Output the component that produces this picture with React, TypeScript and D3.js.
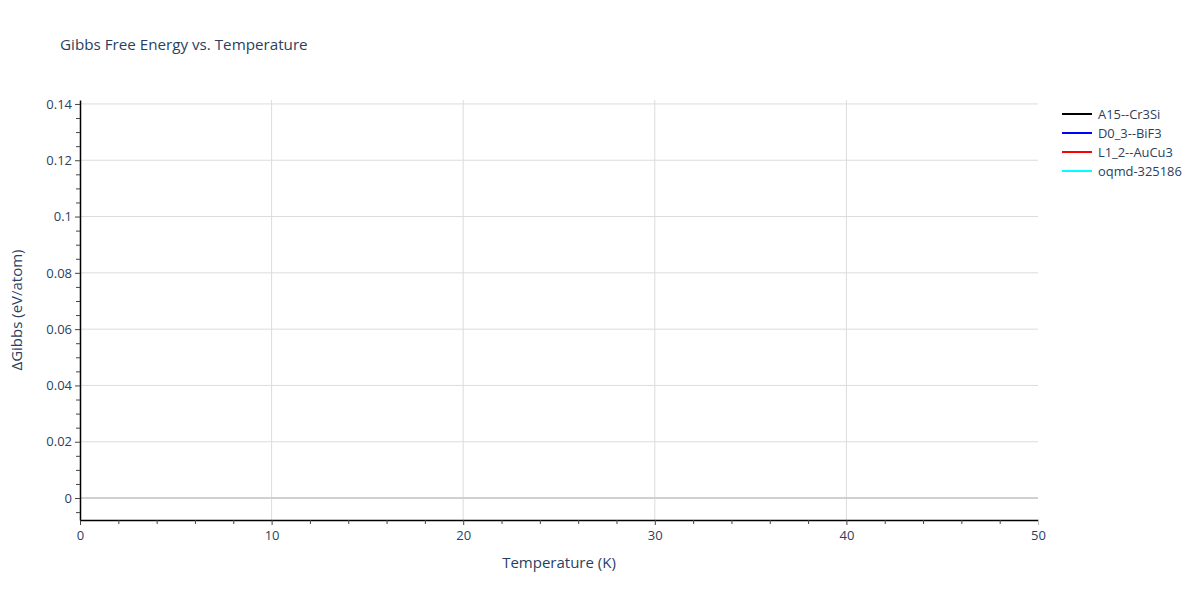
import React, { useEffect, useRef } from "react";
import * as d3 from "d3";

// series names and colours as listed in the legend
const seriesNames = ["A15--Cr3Si", "D0_3--BiF3", "L1_2--AuCu3", "oqmd-325186"];
const seriesColors = ["black", "blue", "red", "cyan"];
// the traces hold a single point at T = 0, so no segment shows up
const temperatures = [0];
const seriesValues = [[0], [0], [0], [0]];

const xTicks = [0, 10, 20, 30, 40, 50];
const yTicks = [0, 0.02, 0.04, 0.06, 0.08, 0.1, 0.12, 0.14];
const yTickLabels = ["0", "0.02", "0.04", "0.06", "0.08", "0.1", "0.12", "0.14"];

function App() {
  const svgRef = useRef<SVGSVGElement | null>(null);

  useEffect(() => {
    drawChart();
  }, []);

  const drawChart = () => {
    const svg = d3.select(svgRef.current);
    svg.selectAll("*").remove();

    const font = "'Open Sans', Verdana, Arial, sans-serif";
    const textColor = "#2a3f5f";
    const left = 80;
    const right = 1038;
    const top = 100;
    const bottom = 520;

    const xScale = d3.scaleLinear().domain([0, 50]).range([left, right]);
    const yScale = d3.scaleLinear().domain([-0.0078, 0.1414]).range([bottom, top]);

    // horizontal grid
    svg
      .append("g")
      .selectAll("line")
      .data(yTicks.filter((d) => d !== 0))
      .enter()
      .append("line")
      .attr("x1", left)
      .attr("x2", right)
      .attr("y1", (d) => yScale(d))
      .attr("y2", (d) => yScale(d))
      .attr("stroke", "#dcdcdc")
      .attr("stroke-width", 1);

    // vertical grid
    svg
      .append("g")
      .selectAll("line")
      .data(xTicks.filter((d) => d !== 0 && d !== 50))
      .enter()
      .append("line")
      .attr("x1", (d) => xScale(d))
      .attr("x2", (d) => xScale(d))
      .attr("y1", top)
      .attr("y2", bottom)
      .attr("stroke", "#dcdcdc")
      .attr("stroke-width", 1);

    // zero line
    svg
      .append("line")
      .attr("x1", left)
      .attr("x2", right)
      .attr("y1", yScale(0))
      .attr("y2", yScale(0))
      .attr("stroke", "#d0d0d0")
      .attr("stroke-width", 2);

    // series lines
    const line = d3
      .line<number>()
      .x((_, i) => xScale(temperatures[i]))
      .y((d) => yScale(d));

    seriesValues.forEach((vals, i) => {
      svg
        .append("path")
        .datum(vals)
        .attr("fill", "none")
        .attr("stroke", seriesColors[i])
        .attr("stroke-width", 2)
        .attr("d", line);
    });

    // x axis
    const xAxis = d3
      .axisBottom(xScale)
      .tickValues(xTicks)
      .tickFormat((d) => String(d))
      .tickSizeInner(5)
      .tickSizeOuter(0)
      .tickPadding(6);
    const gx = svg.append("g").attr("transform", `translate(0,${bottom})`).call(xAxis);
    const xMinor = d3
      .axisBottom(xScale)
      .tickValues(d3.range(2, 50, 2).filter((d) => d % 10 !== 0))
      .tickSize(4)
      .tickFormat(() => "");
    const gxm = svg.append("g").attr("transform", `translate(0,${bottom})`).call(xMinor);
    gxm.select(".domain").remove();
    gxm.selectAll("line").attr("stroke", "#444");

    // y axis
    const yAxis = d3
      .axisLeft(yScale)
      .tickValues(yTicks)
      .tickFormat((_, i) => yTickLabels[i])
      .tickSizeInner(5)
      .tickSizeOuter(0)
      .tickPadding(3);
    const gy = svg.append("g").attr("transform", `translate(${left},0)`).call(yAxis);
    const yMinor = d3
      .axisLeft(yScale)
      .tickValues(d3.range(-1, 29).filter((k) => k % 4 !== 0).map((k) => k * 0.005))
      .tickSize(4)
      .tickFormat(() => "");
    const gym = svg.append("g").attr("transform", `translate(${left},0)`).call(yMinor);
    gym.select(".domain").remove();
    gym.selectAll("line").attr("stroke", "#444");

    [gx, gy].forEach((g) => {
      g.select(".domain").attr("stroke", "#000").attr("stroke-width", 1.5);
      g.selectAll(".tick line").attr("stroke", "#444");
      g.selectAll(".tick text")
        .attr("fill", textColor)
        .style("font-family", font)
        .style("font-size", "13px");
    });
    gx.selectAll(".tick line").filter((d) => d === 50).attr("stroke", "#bbb");

    // title
    svg
      .append("text")
      .attr("x", 60)
      .attr("y", 50)
      .attr("fill", textColor)
      .style("font-family", font)
      .style("font-size", "15.2px")
      .text("Gibbs Free Energy vs. Temperature");

    // axis titles
    svg
      .append("text")
      .attr("x", 559)
      .attr("y", 568)
      .attr("text-anchor", "middle")
      .attr("fill", textColor)
      .style("font-family", font)
      .style("font-size", "15px")
      .text("Temperature (K)");

    svg
      .append("text")
      .attr("transform", `translate(22,${(top + bottom) / 2}) rotate(-90)`)
      .attr("text-anchor", "middle")
      .attr("fill", textColor)
      .style("font-family", font)
      .style("font-size", "15px")
      .text("ΔGibbs (eV/atom)");

    // legend
    const legend = svg
      .append("g")
      .selectAll("g")
      .data(seriesNames)
      .enter()
      .append("g")
      .attr("transform", (_, i) => `translate(1062,${114 + i * 19})`);
    legend
      .append("line")
      .attr("x1", 0)
      .attr("x2", 30)
      .attr("stroke", (_, i) => seriesColors[i])
      .attr("stroke-width", 2);
    legend
      .append("text")
      .attr("x", 36)
      .attr("y", 4.5)
      .attr("fill", textColor)
      .style("font-family", font)
      .style("font-size", "12.9px")
      .text((d) => d);
  };

  return (
    <div>
      <svg
        ref={svgRef}
        width={1200}
        height={600}
        style={{ position: "absolute", left: 0, top: 0, background: "white" }}
      />
    </div>
  );
}

export default App;
